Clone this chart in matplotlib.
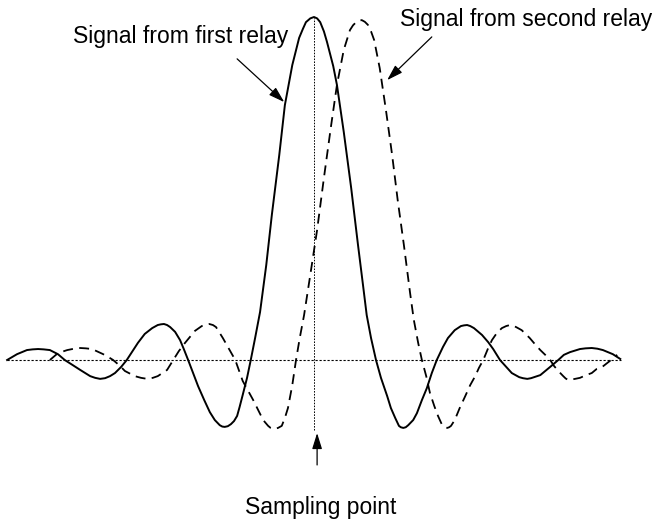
import matplotlib
matplotlib.use("Agg")
import matplotlib.pyplot as plt

plt.rcParams['font.family'] = ['Liberation Sans', 'DejaVu Sans']

# time relative to the sampling point (in symbol periods), amplitude relative to peak
first_t = [-4.95, -4.79, -4.63, -4.54, -4.45, -4.36, -4.26, -4.13, -4.02, -3.89,
           -3.77, -3.61, -3.53, -3.45, -3.37, -3.29, -3.21, -3.11, -3.02, -2.84,
           -2.73, -2.61, -2.52, -2.47, -2.42, -2.37, -2.32, -2.24, -2.16, -2.10,
           -2.03, -1.95, -1.87, -1.77, -1.68, -1.60, -1.52, -1.48, -1.44, -1.39,
           -1.34, -1.29, -1.24, -1.20, -1.15, -1.08, -1.02, -0.95, -0.87, -0.77,
           -0.68, -0.56, -0.47, -0.35, -0.24, -0.18, -0.13, -0.06, 0.00, 0.05,
           0.10, 0.16, 0.21, 0.31, 0.37, 0.48, 0.60, 0.71, 0.79, 0.85,
           0.92, 1.00, 1.08, 1.18, 1.24, 1.31, 1.37, 1.40, 1.44, 1.48,
           1.52, 1.60, 1.66, 1.74, 1.82, 1.90, 1.98, 2.08, 2.16, 2.27,
           2.37, 2.42, 2.47, 2.52, 2.58, 2.71, 2.81, 2.89, 3.00, 3.10,
           3.19, 3.31, 3.37, 3.44, 3.50, 3.55, 3.65, 3.73, 3.81, 3.94,
           4.03, 4.13, 4.29, 4.38, 4.48, 4.57, 4.66, 4.82, 4.94]
first_amp = [0.0, 0.017, 0.029, 0.031, 0.032, 0.031, 0.029, 0.017, 0.0, -0.015,
             -0.029, -0.047, -0.052, -0.055, -0.053, -0.047, -0.038, -0.020, 0.0, 0.050,
             0.076, 0.093, 0.102, 0.104, 0.105, 0.102, 0.096, 0.082, 0.058, 0.032,
             0.0, -0.038, -0.076, -0.117, -0.152, -0.175, -0.190, -0.194, -0.195, -0.193,
             -0.187, -0.178, -0.163, -0.137, -0.102, -0.052, 0.0, 0.064, 0.140, 0.277,
             0.423, 0.598, 0.743, 0.860, 0.939, 0.965, 0.985, 0.996, 1.0, 0.996,
             0.985, 0.958, 0.927, 0.857, 0.802, 0.665, 0.501, 0.335, 0.219, 0.131,
             0.064, 0.0, -0.052, -0.105, -0.140, -0.169, -0.192, -0.196, -0.198, -0.196,
             -0.190, -0.175, -0.155, -0.117, -0.082, -0.038, 0.0, 0.038, 0.064, 0.087,
             0.099, 0.101, 0.102, 0.099, 0.093, 0.073, 0.052, 0.032, 0.0, -0.020,
             -0.038, -0.050, -0.053, -0.055, -0.053, -0.050, -0.044, -0.032, -0.020, 0.0,
             0.015, 0.023, 0.032, 0.034, 0.035, 0.033, 0.029, 0.017, 0.003]

second_t = [-4.26, -4.13, -3.98, -3.87, -3.77, -3.68, -3.58, -3.40, -3.32, -3.24,
            -3.13, -3.05, -2.89, -2.79, -2.69, -2.60, -2.52, -2.37, -2.27, -2.18,
            -2.08, -1.92, -1.81, -1.75, -1.69, -1.63, -1.58, -1.47, -1.37, -1.27,
            -1.15, -0.98, -0.90, -0.82, -0.74, -0.70, -0.66, -0.62, -0.58, -0.52,
            -0.47, -0.42, -0.35, -0.29, -0.23, -0.16, -0.06, 0.05, 0.16, 0.27,
            0.37, 0.48, 0.58, 0.63, 0.68, 0.72, 0.77, 0.82, 0.87, 0.92,
            0.97, 1.06, 1.16, 1.26, 1.35, 1.45, 1.55, 1.61, 1.68, 1.74,
            1.81, 1.87, 1.94, 2.00, 2.06, 2.10, 2.15, 2.18, 2.21, 2.27,
            2.35, 2.44, 2.52, 2.60, 2.66, 2.73, 2.81, 2.87, 2.95, 3.03,
            3.10, 3.16, 3.21, 3.26, 3.35, 3.48, 3.56, 3.65, 3.73, 3.81,
            3.87, 3.94, 4.02, 4.06, 4.10, 4.15, 4.21, 4.29, 4.39, 4.48,
            4.56, 4.65, 4.77, 4.89]
second_amp = [0.0, 0.020, 0.029, 0.033, 0.035, 0.034, 0.032, 0.017, 0.009, 0.0,
              -0.017, -0.032, -0.047, -0.052, -0.055, -0.052, -0.047, -0.029, 0.0, 0.026,
              0.050, 0.085, 0.099, 0.103, 0.105, 0.102, 0.096, 0.064, 0.032, 0.0,
              -0.061, -0.117, -0.146, -0.175, -0.192, -0.198, -0.201, -0.200, -0.198, -0.192,
              -0.169, -0.140, -0.073, 0.0, 0.064, 0.131, 0.248, 0.379, 0.531, 0.676,
              0.802, 0.904, 0.962, 0.976, 0.985, 0.989, 0.991, 0.986, 0.977, 0.958,
              0.933, 0.851, 0.729, 0.598, 0.466, 0.335, 0.195, 0.117, 0.050, 0.0,
              -0.047, -0.096, -0.134, -0.163, -0.187, -0.195, -0.198, -0.196, -0.192, -0.175,
              -0.140, -0.105, -0.073, -0.047, -0.023, 0.0, 0.035, 0.058, 0.079, 0.093,
              0.099, 0.102, 0.100, 0.096, 0.087, 0.064, 0.047, 0.029, 0.015, 0.0,
              -0.017, -0.032, -0.047, -0.054, -0.058, -0.057, -0.055, -0.052, -0.044, -0.038,
              -0.026, -0.020, -0.003, 0.015]

label_first = "Signal from first relay"
label_second = "Signal from second relay"
label_sample = "Sampling point"

fig = plt.figure(figsize=(6.52, 5.30), dpi=100)
ax = fig.add_axes([0, 0, 1, 1])
ax.set_xlim(-5.0645, 5.4516)
ax.set_ylim(-0.4956, 1.0496)
ax.axis('off')

# reference lines
ax.plot([first_t[0], 4.95], [0, 0], color='black', lw=0.8, linestyle=(0, (2, 1.6)))
ax.plot([0, 0], [-0.204, 0.997], color='black', lw=0.7, linestyle=(0, (1.6, 1.4)))

ax.plot(first_t, first_amp, color='black', lw=1.4, solid_joinstyle='round')
ax.plot(second_t, second_amp, color='black', lw=1.3, linestyle=(0, (5.5, 3.5)))

arrow = dict(arrowstyle='-|>,head_length=0.8,head_width=0.25', color='black',
             lw=0.9, shrinkA=0, shrinkB=0, mutation_scale=12)
ax.annotate('', xy=(-0.48, 0.752), xytext=(-1.24, 0.878), arrowprops=arrow)
ax.annotate('', xy=(1.18, 0.816), xytext=(1.90, 0.942), arrowprops=arrow)
ax.annotate('', xy=(0.05, -0.213), xytext=(0.05, -0.306), arrowprops=arrow)

ax.text(-3.89, 0.924, label_first, fontsize=16.5, ha='left', va='baseline')
ax.text(1.39, 0.974, label_second, fontsize=16.5, ha='left', va='baseline')
ax.text(0.10, -0.449, label_sample, fontsize=16.5, ha='center', va='baseline')

fig.savefig("out.png", dpi=100)
